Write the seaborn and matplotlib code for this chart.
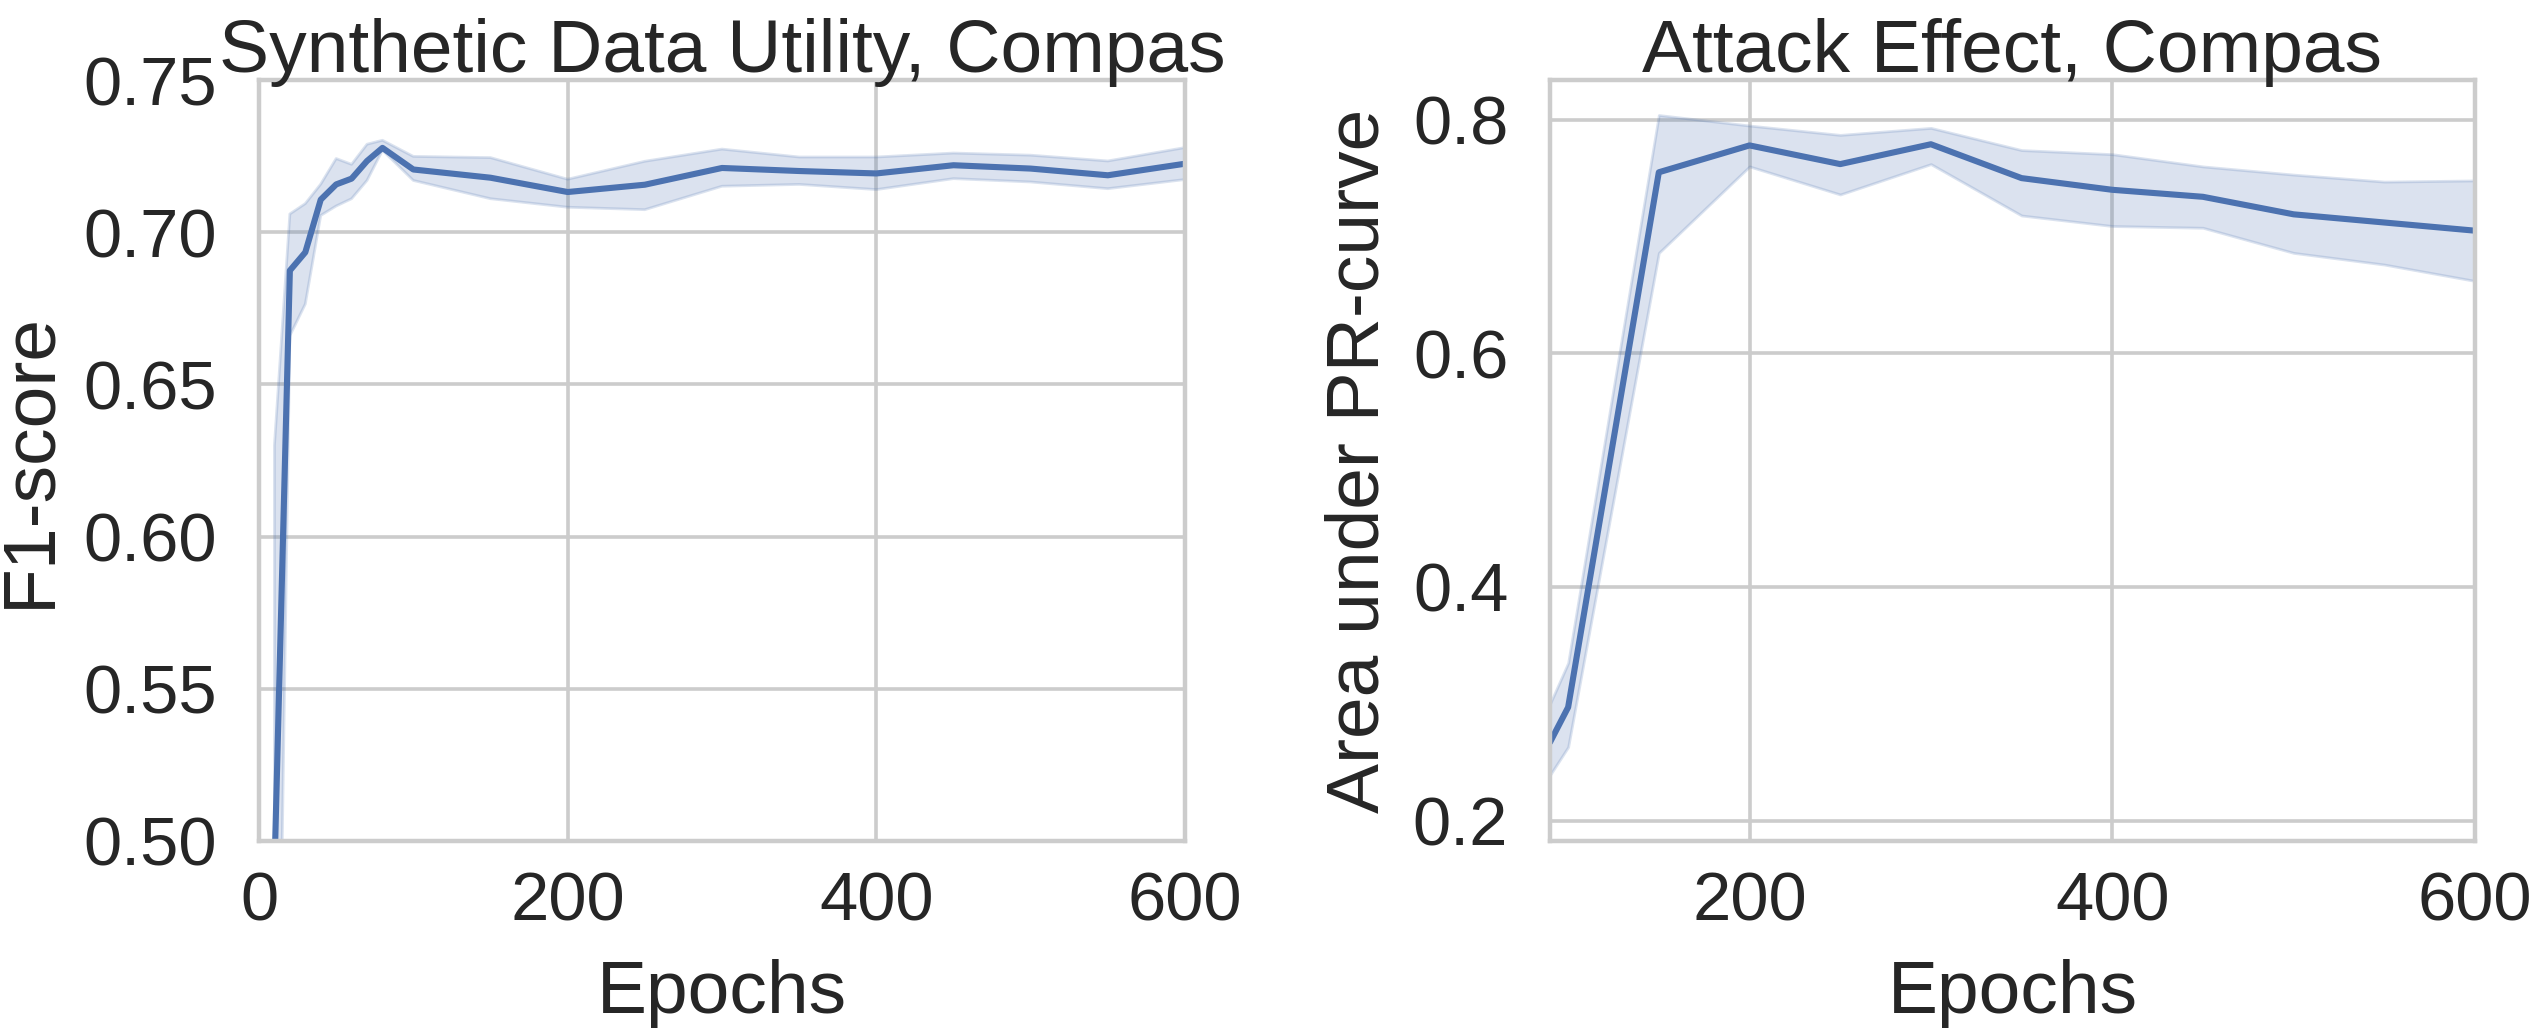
import numpy as np
import pandas as pd
import matplotlib
matplotlib.use("Agg")
import matplotlib.pyplot as plt
import seaborn as sns

# --- data (mean line + band bounds) ---
epochs_f1 = [10, 20, 30, 40, 50, 60, 70, 80, 100, 150, 200, 250, 300, 350, 400, 450, 500, 550, 600]
f1_mean = [0.490, 0.6874, 0.6934, 0.7107, 0.7157, 0.7176, 0.7234, 0.7277, 0.7206, 0.7179,
           0.7132, 0.7156, 0.7211, 0.7201, 0.7193, 0.7220, 0.7209, 0.7187, 0.7225]
f1_upper = [0.630, 0.7060, 0.7094, 0.7158, 0.7242, 0.7223, 0.7289, 0.7302, 0.7249, 0.7245,
            0.7174, 0.7233, 0.7273, 0.7247, 0.7247, 0.7260, 0.7253, 0.7234, 0.7278]
f1_lower = [0.330, 0.6660, 0.6764, 0.7055, 0.7086, 0.7110, 0.7170, 0.7269, 0.7170, 0.7110,
            0.7082, 0.7074, 0.7151, 0.7157, 0.7140, 0.7176, 0.7165, 0.7143, 0.7173]

epochs_pr = [90, 100, 150, 200, 250, 300, 350, 400, 450, 500, 550, 600]
pr_mean = [0.267, 0.297, 0.755, 0.778, 0.762, 0.779, 0.750, 0.740, 0.734, 0.719, 0.712, 0.705]
pr_upper = [0.300, 0.335, 0.804, 0.795, 0.787, 0.793, 0.774, 0.7705, 0.760, 0.753, 0.747, 0.748]
pr_lower = [0.239, 0.263, 0.686, 0.760, 0.736, 0.762, 0.718, 0.709, 0.7075, 0.686, 0.676, 0.662]

TITLES = ["Synthetic Data Utility, Compas", "Attack Effect, Compas"]
YLABELS = ["F1-score", "Area under PR-curve"]


def long_form(epochs, lo, mid, hi):
    # three rows per epoch; median -> line, 100% interval -> band
    return pd.DataFrame({
        "Epochs": list(epochs) * 3,
        "value": list(lo) + list(mid) + list(hi),
    })


sns.set_theme(style="whitegrid")
plt.rcParams["font.family"] = ["Liberation Sans", "DejaVu Sans"]
plt.rcParams.update({
    "axes.edgecolor": "#cccccc",
    "axes.linewidth": 3.2,
    "grid.color": "#cccccc",
    "grid.linewidth": 2.6,
    "lines.linewidth": 4.4,
    "patch.linewidth": 2.0,
    "xtick.labelsize": 49.5,
    "ytick.labelsize": 49.5,
    "axes.labelsize": 54,
    "axes.titlesize": 54,
    "xtick.major.size": 0,
    "ytick.major.size": 0,
    "xtick.major.pad": 21,
    "ytick.major.pad": 30,
    "text.color": "#262626",
    "axes.labelcolor": "#262626",
    "xtick.color": "#262626",
    "ytick.color": "#262626",
})

W, H = 2533, 1030
fig = plt.figure(figsize=(W / 100, H / 100), dpi=100)
ax1 = fig.add_axes([259 / W, (H - 841) / H, 926 / W, 761 / H])
ax2 = fig.add_axes([1550 / W, (H - 841) / H, 925 / W, 761 / H])

color = sns.color_palette("deep")[0]

df1 = long_form(epochs_f1, f1_lower, f1_mean, f1_upper)
sns.lineplot(data=df1, x="Epochs", y="value", estimator="median",
             errorbar=("pi", 100), color=color, ax=ax1)
ax1.set_xlim(0, 600)
ax1.set_ylim(0.5, 0.75)
ax1.set_xticks([0, 200, 400, 600])
ax1.set_yticks([0.50, 0.55, 0.60, 0.65, 0.70, 0.75])
ax1.set_yticklabels(["0.50", "0.55", "0.60", "0.65", "0.70", "0.75"])

df2 = long_form(epochs_pr, pr_lower, pr_mean, pr_upper)
sns.lineplot(data=df2, x="Epochs", y="value", estimator="median",
             errorbar=("pi", 100), color=color, ax=ax2)
ax2.set_xlim(90, 600)
ax2.set_ylim(0.1825, 0.834)
ax2.set_xticks([200, 400, 600])
ax2.set_yticks([0.2, 0.4, 0.6, 0.8])

for ax, title, ylabel in zip([ax1, ax2], TITLES, YLABELS):
    ax.set_title(title)
    ax.set_ylabel(ylabel, labelpad=14)
    ax.set_xlabel("Epochs", labelpad=18)

fig.savefig("out.png", dpi=100)
